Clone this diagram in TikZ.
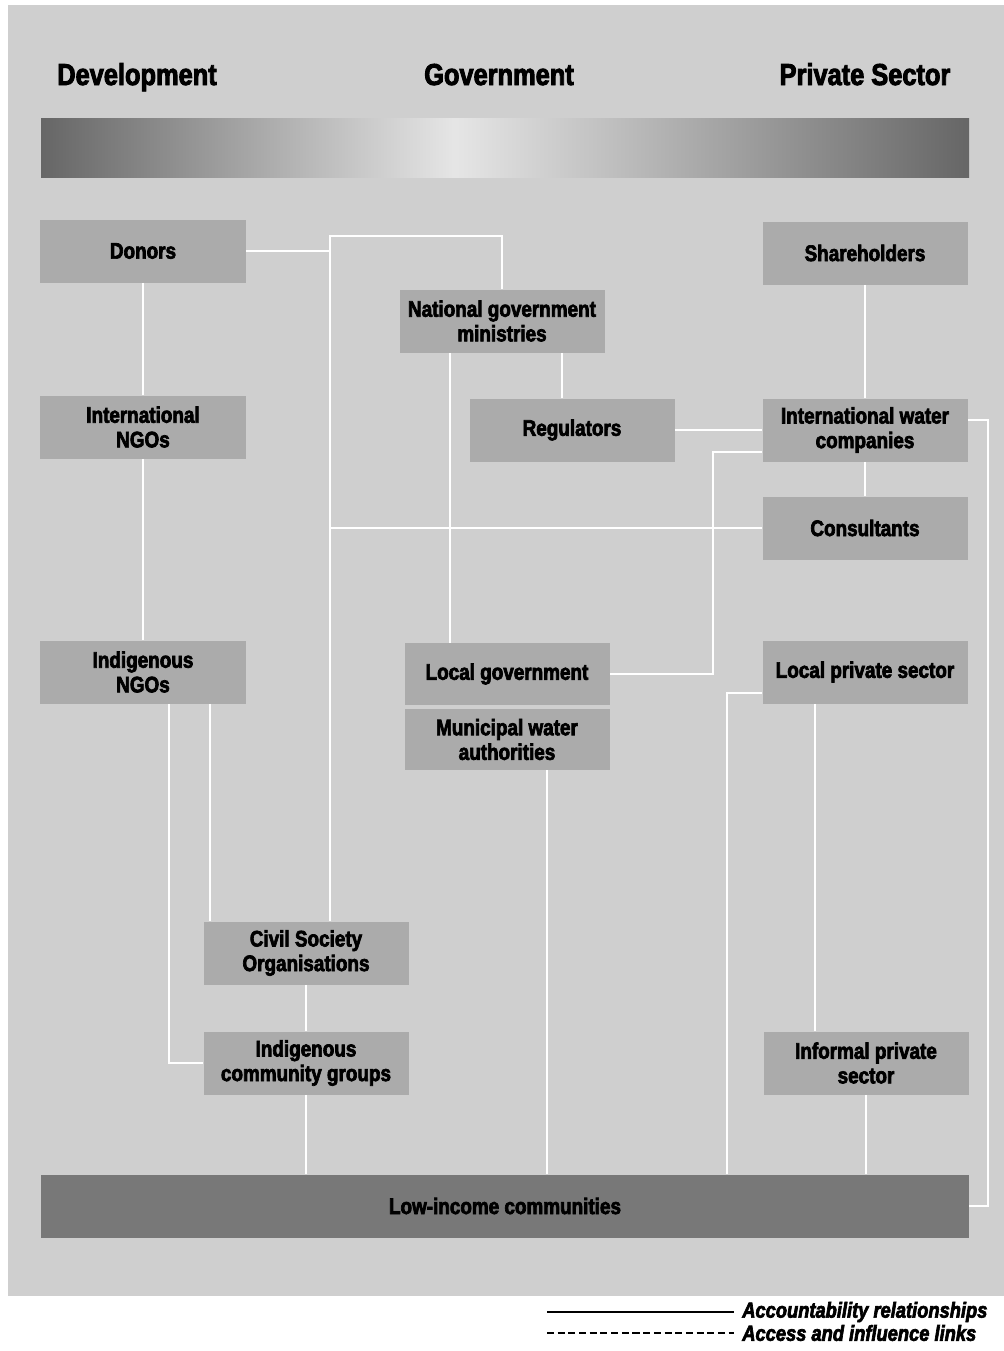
\documentclass[tikz,border=0pt]{standalone}
\usepackage{fontspec}
\newfontfamily\condfont[FakeStretch=0.84, BoldFeatures={FakeBold=3}, BoldItalicFeatures={FakeBold=3}]{Liberation Sans}
\definecolor{bggray}{gray}{0.81}
\definecolor{boxgray}{gray}{0.67}
\definecolor{lowgray}{gray}{0.47}
\definecolor{bardark}{gray}{0.40}
\tikzset{
  actor/.style={fill=boxgray, minimum width=51.25mm, minimum height=15.75mm, inner sep=0pt, align=center,
    font=\condfont\bfseries\fontsize{16}{17.5}\selectfont},
  heading/.style={anchor=base, font=\condfont\bfseries\fontsize{21.5}{24}\selectfont},
  legendtext/.style={anchor=west, inner sep=0pt, font=\condfont\bfseries\itshape\fontsize{15.5}{17}\selectfont},
  link/.style={white, line width=1.1pt},
}

\begin{document}
\begin{tikzpicture}[x=0.25mm, y=-0.25mm]
    \useasboundingbox (0,0) rectangle (1004,1351);

    % Background panel
    \fill[bggray] (8,5) rectangle (1004,1296);

    % Column headings
    \node[heading] (dev) at (137,85) {Development};
    \node[heading] (gov) at (499,85) {Government};
    \node[heading] (priv) at (865,85) {Private Sector};

    % Shaded bar under the headings
    \shade[left color=bardark, right color=white!90!black] (41,118) rectangle (455,177);
    \shade[left color=white!90!black, right color=bardark] (455,118) rectangle (969,177);

    % Development column
    \node[actor] (donors) at (143,251) {Donors};
    \node[actor] (intngo) at (143,427) {International\\NGOs};
    \node[actor] (indngo) at (143,672) {Indigenous\\NGOs};
    \node[actor] (cso) at (306,953) {Civil Society\\Organisations};
    \node[actor] (icg) at (306,1063) {Indigenous\\community groups};

    % Government column
    \node[actor] (ngm) at (502,321) {National government\\ministries};
    \node[actor] (reg) at (572,430) {Regulators};
    \node[actor, minimum height=15.5mm] (lg) at (507,674) {Local government};
    \node[actor, minimum height=15.25mm] (mwa) at (507,739.5) {Municipal water\\authorities};

    % Private sector column
    \node[actor] (share) at (865,253) {Shareholders};
    \node[actor] (iwc) at (865,430) {International water\\companies};
    \node[actor] (cons) at (865,528) {Consultants};
    \node[actor] (lps) at (865,672) {Local private sector};
    \node[actor] (infp) at (866,1063) {Informal private\\sector};

    % Low-income communities
    \node[actor, fill=lowgray, minimum width=232mm] (low) at (505,1206) {Low-income communities};

    % Routing columns and rows
    \coordinate (colA) at (330,0);
    \coordinate (colB) at (450,0);
    \coordinate (colC) at (562,0);
    \coordinate (colD) at (713,0);
    \coordinate (colE) at (988,0);
    \coordinate (colF) at (727,0);
    \coordinate (colG) at (815,0);
    \coordinate (colH) at (547,0);
    \coordinate (colI) at (169,0);
    \coordinate (colJ) at (210,0);
    \coordinate (rowA) at (0,236);
    \coordinate (rowB) at (0,452);
    \coordinate (rowC) at (0,420);
    \coordinate (rowD) at (0,693);

    % Links
    \draw[link] (donors) -- (intngo);
    \draw[link] (intngo) -- (indngo);
    \draw[link] (donors.east) -| (cso.north -| colA);
    \draw[link] (donors.east -| colA) |- (ngm.north |- rowA) -- (ngm.north);
    \draw[link] (cons.west) -- (cons.west -| colA);
    \draw[link] (ngm.south -| colB) -- (lg.north -| colB);
    \draw[link] (ngm.south -| colC) -- (reg.north -| colC);
    \draw[link] (reg.east) -- (iwc.west);
    \draw[link] (iwc.west |- rowB) -| (colD |- lg.east) -- (lg.east);
    \draw[link] (share) -- (iwc);
    \draw[link] (iwc) -- (cons);
    \draw[link] (iwc.east |- rowC) -| (colE |- low.east) -- (low.east);
    \draw[link] (lps.west |- rowD) -| (colF |- low.north);
    \draw[link] (lps.south -| colG) -- (infp.north -| colG);
    \draw[link] (infp.south) -- (infp.south |- low.north);
    \draw[link] (mwa.south -| colH) -- (low.north -| colH);
    \draw[link] (icg.south) -- (icg.south |- low.north);
    \draw[link] (cso) -- (icg);
    \draw[link] (indngo.south -| colI) |- (icg.west);
    \draw[link] (indngo.south -| colJ) -- (cso.north -| colJ);

    % Legend
    \coordinate (solidA) at (547,1312);
    \coordinate (solidB) at (734,1312);
    \coordinate (dashA) at (547,1333);
    \coordinate (dashB) at (734,1333);
    \draw[black, line width=1.4pt] (solidA) -- (solidB);
    \draw[black, line width=1.4pt, dash pattern=on 5pt off 2.6pt] (dashA) -- (dashB);
    \node[legendtext] (acclabel) at (742,1312) {Accountability relationships};
    \node[legendtext] (acslabel) at (742,1333) {Access and influence links};
\end{tikzpicture}
\end{document}
